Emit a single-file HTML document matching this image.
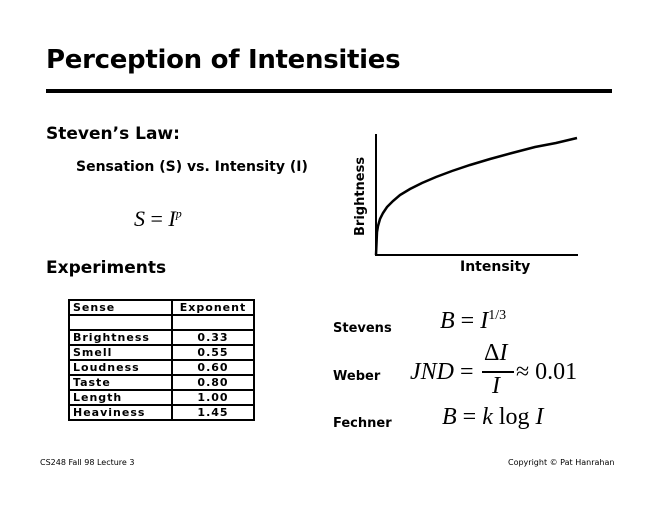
<!DOCTYPE html>
<html><head><style>
body{margin:0;width:660px;height:510px;background:#fff;position:relative;overflow:hidden;font-family:"DejaVu Sans","Liberation Sans",sans-serif;color:#000}
.a{position:absolute;white-space:nowrap}
.b{font-weight:bold}
table{position:absolute;left:68px;top:299px;border-collapse:collapse;font-size:11px;font-weight:bold;letter-spacing:1px}
td{border:2px solid #000;padding:0 3px;height:13px;line-height:13px}
td.e{text-align:center}
</style></head><body>
<div class="a b" style="left:46px;top:45px;font-size:26px;letter-spacing:-0.3px">Perception of Intensities</div>
<div style="position:absolute;left:46px;top:89px;width:566px;height:4px;background:#000"></div>
<div class="a b" style="left:46px;top:124px;font-size:17px">Steven’s Law:</div>
<div class="a b" style="left:76px;top:159px;font-size:14px">Sensation (S) vs. Intensity (I)</div>
<div class="a" style="left:134px;top:206px;font-size:22px;font-family:'Liberation Serif',serif"><i>S</i> = <i>I</i><sup style="font-size:12px;font-style:italic">p</sup></div>
<div class="a b" style="left:46px;top:258px;font-size:17px">Experiments</div>
<svg style="position:absolute;left:0;top:0" width="660" height="510">
<line x1="376" y1="134" x2="376" y2="256" stroke="#000" stroke-width="2"/>
<line x1="375" y1="255" x2="578" y2="255" stroke="#000" stroke-width="2"/>
<polyline fill="none" stroke="#000" stroke-width="2.5" points="376,255 377,232 378,226 380,219 383,213 387,207 393,201 400,195 410,189 422,183 436,177 452,171 470,165 490,159 512,153 535,147 556,143 577,138"/>
<text x="364" y="236" transform="rotate(-90 364 236)" font-size="13" font-weight="bold" font-family="DejaVu Sans,sans-serif">Brightness</text>
</svg>
<div class="a b" style="left:460px;top:259px;font-size:14px">Intensity</div>
<table>
<tr><td style="width:95px">Sense</td><td class="e" style="width:74px">Exponent</td></tr>
<tr><td></td><td></td></tr>
<tr><td>Brightness</td><td class="e">0.33</td></tr>
<tr><td>Smell</td><td class="e">0.55</td></tr>
<tr><td>Loudness</td><td class="e">0.60</td></tr>
<tr><td>Taste</td><td class="e">0.80</td></tr>
<tr><td>Length</td><td class="e">1.00</td></tr>
<tr><td>Heaviness</td><td class="e">1.45</td></tr>
</table>
<div class="a b" style="left:333px;top:321px;font-size:13px">Stevens</div>
<div class="a b" style="left:333px;top:369px;font-size:13px">Weber</div>
<div class="a b" style="left:333px;top:416px;font-size:13px">Fechner</div>
<div class="a" style="left:440px;top:308px;font-size:24px;font-family:'Liberation Serif',serif"><i>B</i> = <i>I</i><sup style="font-size:14px">1/3</sup></div>
<div class="a" style="left:410px;top:359px;font-size:24px;font-family:'Liberation Serif',serif"><i>JND</i> =</div>
<div class="a" style="left:484px;top:340px;font-size:24px;font-family:'Liberation Serif',serif">Δ<i>I</i></div>
<div style="position:absolute;left:482px;top:371px;width:32px;height:2px;background:#000"></div>
<div class="a" style="left:492px;top:373px;font-size:24px;font-family:'Liberation Serif',serif"><i>I</i></div>
<div class="a" style="left:516px;top:359px;font-size:24px;font-family:'Liberation Serif',serif">≈ 0.01</div>
<div class="a" style="left:442px;top:404px;font-size:24px;font-family:'Liberation Serif',serif"><i>B</i> = <i>k</i> log <i>I</i></div>
<div class="a" style="left:40px;top:458px;font-size:8px">CS248 Fall 98 Lecture 3</div>
<div class="a" style="left:508px;top:458px;font-size:8px">Copyright © Pat Hanrahan</div>
</body></html>
